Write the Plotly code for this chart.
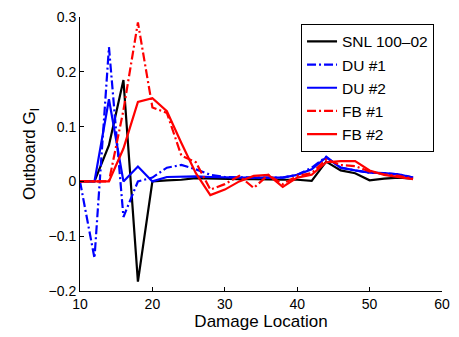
import plotly.graph_objects as go

# Damage locations along the blade
location = [10, 12, 14, 16, 18, 20, 22, 24, 26, 28, 30, 32, 34, 36, 38, 40,
            42, 44, 46, 48, 50, 52, 54, 56]

snl_100_02 = [0.0, 0.0, 0.066, 0.185, -0.183, 0.0, 0.002, 0.003, 0.006, 0.005,
              0.005, 0.004, 0.004, 0.003, 0.003, 0.003, 0.001, 0.036, 0.02,
              0.015, 0.002, 0.005, 0.007, 0.005]
du_1 = [0.0, -0.14, 0.245, -0.065, 0.0, 0.007, 0.025, 0.03, 0.022, 0.012,
        0.008, 0.007, 0.007, 0.007, 0.007, 0.012, 0.025, 0.045, 0.025, 0.02,
        0.016, 0.015, 0.013, 0.007]
du_2 = [0.0, 0.0, 0.15, 0.0, 0.027, 0.0, 0.008, 0.009, 0.009, 0.008, 0.007,
        0.007, 0.007, 0.007, 0.007, 0.012, 0.022, 0.044, 0.025, 0.02, 0.016,
        0.015, 0.013, 0.007]
fb_1 = [0.0, 0.0, 0.0, 0.13, 0.29, 0.135, 0.125, 0.047, 0.035, -0.015,
        -0.005, 0.01, -0.012, 0.012, -0.005, 0.01, 0.015, 0.04, 0.03, 0.028,
        0.018, 0.013, 0.01, 0.005]
fb_2 = [0.0, 0.0, 0.0, 0.06, 0.145, 0.152, 0.128, 0.07, 0.015, -0.025,
        -0.015, 0.0, 0.01, 0.012, -0.01, 0.007, 0.012, 0.035, 0.037, 0.037,
        0.02, 0.012, 0.008, 0.004]

dashdot = "9px,3px,2px,3px"
series = [
    ("SNL 100\u201302", snl_100_02, "black", "solid"),
    ("DU #1", du_1, "blue", dashdot),
    ("DU #2", du_2, "blue", "solid"),
    ("FB #1", fb_1, "red", dashdot),
    ("FB #2", fb_2, "red", "solid"),
]

fig = go.Figure()
for name, vals, color, dash in series:
    fig.add_trace(go.Scatter(
        x=location, y=vals, mode="lines", name=name,
        line=dict(color=color, width=2.2, dash=dash),
    ))

font = dict(family="Liberation Sans, Arial, sans-serif", size=14, color="black")

fig.update_layout(
    width=459, height=337,
    margin=dict(l=80, r=9, t=11, b=46),
    paper_bgcolor="white", plot_bgcolor="white",
    font=font,
    showlegend=True,
    legend=dict(
        x=0.978, y=0.975, xanchor="right", yanchor="top",
        bgcolor="white", bordercolor="black", borderwidth=1,
        font=dict(size=15.5), tracegroupgap=0,
        entrywidth=100, entrywidthmode="pixels",
    ),
    xaxis=dict(
        range=[10, 60], tickvals=[10, 20, 30, 40, 50, 60],
        ticks="inside", ticklen=4, tickcolor="black",
        showline=True, linecolor="black", linewidth=1,
        showgrid=False, zeroline=False,
        title=dict(text="Damage Location", standoff=4),
    ),
    yaxis=dict(
        range=[-0.2, 0.3], tickvals=[-0.2, -0.1, 0, 0.1, 0.2, 0.3],
        ticktext=["\u22120.2", "\u22120.1", "0", "0.1", "0.2", "0.3"],
        ticks="inside", ticklen=4, tickcolor="black",
        showline=True, linecolor="black", linewidth=1,
        showgrid=False, zeroline=False,
        title=dict(text="Outboard G<sub>I</sub>", standoff=8),
    ),
)

fig.write_html("out.html")
